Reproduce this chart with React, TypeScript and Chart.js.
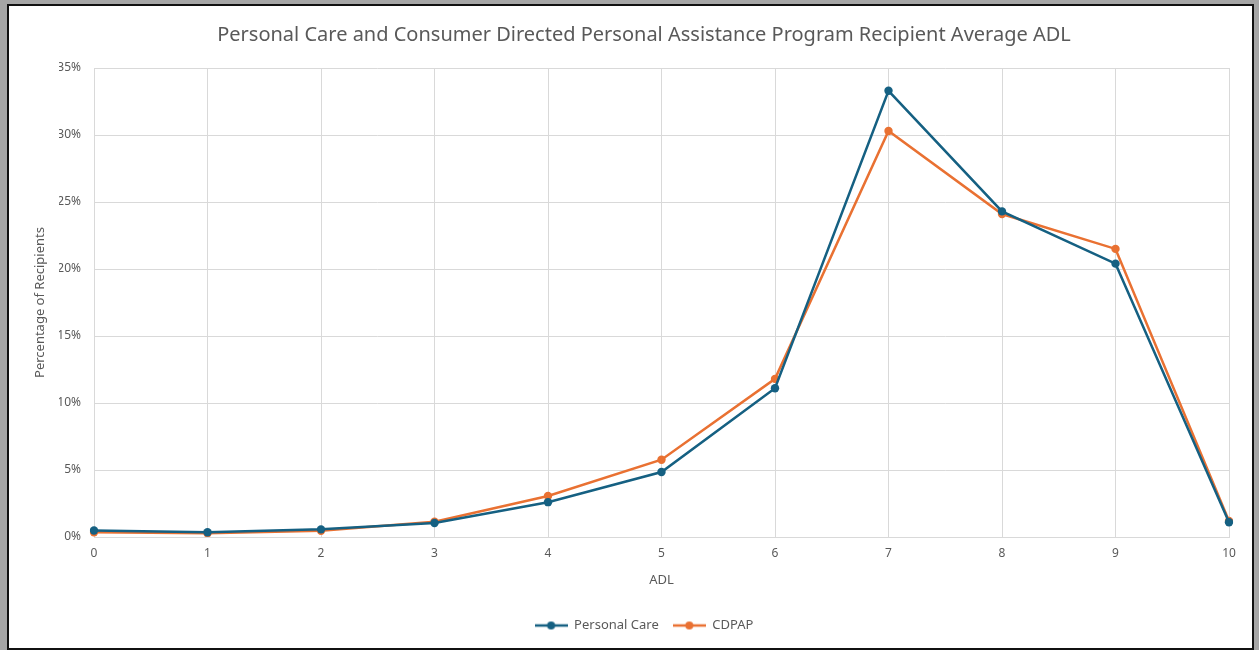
import React, { useEffect, useRef } from "react";
import { Chart, registerables } from "chart.js";

Chart.register(...registerables);

const categories = ["0", "1", "2", "3", "4", "5", "6", "7", "8", "9", "10"];
const personalCare = [0.48, 0.35, 0.57, 1.05, 2.6, 4.85, 11.1, 33.3, 24.3, 20.4, 1.1];
const cdpap = [0.36, 0.28, 0.47, 1.14, 3.06, 5.77, 11.8, 30.3, 24.1, 21.5, 1.2];
const yTicks = [0, 5, 10, 15, 20, 25, 30, 35];

const TITLE = "Personal Care and Consumer Directed Personal Assistance Program Recipient Average ADL";
const BLUE = "#156082";
const ORANGE = "#E97132";
const FONT = "'Noto Sans', sans-serif";
const W = 1243;
const H = 642;

function legendIcon(color: string): HTMLCanvasElement {
  const c = document.createElement("canvas");
  c.width = 33;
  c.height = 10;
  const ctx = c.getContext("2d")!;
  ctx.strokeStyle = color;
  ctx.lineWidth = 2.5;
  ctx.beginPath();
  ctx.moveTo(0, 5);
  ctx.lineTo(33, 5);
  ctx.stroke();
  ctx.fillStyle = color;
  ctx.beginPath();
  ctx.arc(16.5, 5, 4, 0, Math.PI * 2);
  ctx.fill();
  return c;
}

export default function App() {
  const ref = useRef<HTMLCanvasElement>(null);
  useEffect(() => {
    const icons = [legendIcon(BLUE), legendIcon(ORANGE)];
    const chart = new Chart(ref.current!, {
      type: "line",
      data: {
        labels: categories,
        datasets: [
          {
            label: "Personal Care",
            data: personalCare,
            borderColor: BLUE,
            backgroundColor: BLUE,
            borderWidth: 2.5,
            pointRadius: 4.2,
            pointBackgroundColor: BLUE,
            pointBorderWidth: 0,
            tension: 0,
          },
          {
            label: "CDPAP",
            data: cdpap,
            borderColor: ORANGE,
            backgroundColor: ORANGE,
            borderWidth: 2.5,
            pointRadius: 4.2,
            pointBackgroundColor: ORANGE,
            pointBorderWidth: 0,
            tension: 0,
          },
        ],
      },
      options: {
        animation: false,
        responsive: false,
        maintainAspectRatio: false,
        layout: { padding: { left: 50, right: 23, top: 0, bottom: 6 } },
        plugins: {
          title: {
            display: true,
            text: TITLE,
            color: "#595959",
            font: { family: FONT, size: 20, weight: "normal" },
            padding: { top: 17, bottom: 21 },
          },
          legend: {
            position: "bottom",
            labels: {
              usePointStyle: true,
              pointStyleWidth: 33,
              color: "#595959",
              font: { family: FONT, size: 13 },
              boxHeight: 10,
              padding: 14,
              generateLabels: (ch: any) =>
                ch.data.datasets.map((ds: any, i: number) => ({
                  text: ds.label,
                  fillStyle: ds.borderColor,
                  strokeStyle: ds.borderColor,
                  lineWidth: 0,
                  pointStyle: icons[i],
                  datasetIndex: i,
                  hidden: false,
                  fontColor: "#595959",
                })),
            },
          },
          tooltip: { enabled: false },
        },
        scales: {
          x: {
            type: "category",
            offset: false,
            grid: { color: "#d9d9d9", lineWidth: 1, drawTicks: false },
            border: { color: "#d9d9d9" },
            ticks: {
              color: "#595959",
              font: { family: FONT, size: 12 },
              padding: 9,
              maxRotation: 0,
            },
            title: {
              display: true,
              text: "ADL",
              color: "#595959",
              font: { family: FONT, size: 13 },
              padding: { top: 0, bottom: 17 },
            },
            afterFit: (s: any) => {
              s.height = 68;
            },
          },
          y: {
            min: 0,
            max: 35,
            grid: { color: "#d9d9d9", lineWidth: 1, drawTicks: false },
            border: { display: false },
            afterBuildTicks: (s: any) => {
              s.ticks = yTicks.map((v) => ({ value: v }));
            },
            ticks: {
              color: "#595959",
              font: { family: FONT, size: 12 },
              padding: 13,
              callback: (v: any) => v + "%",
            },
            title: {
              display: true,
              text: "Percentage of Recipients",
              color: "#595959",
              font: { family: FONT, size: 13 },
              padding: { top: -27, bottom: 0 },
            },
            afterFit: (s: any) => {
              s.width = 35;
            },
          },
        },
      },
    });
    return () => chart.destroy();
  }, []);

  return (
    <div style={{ position: "fixed", inset: 0, background: "#a6a6a6" }}>
      <div
        style={{
          position: "absolute",
          left: 7,
          top: 4,
          width: W,
          height: H,
          border: "2px solid #111",
          background: "#fff",
        }}
      >
        <canvas ref={ref} width={W} height={H} style={{ display: "block" }} />
      </div>
    </div>
  );
}
